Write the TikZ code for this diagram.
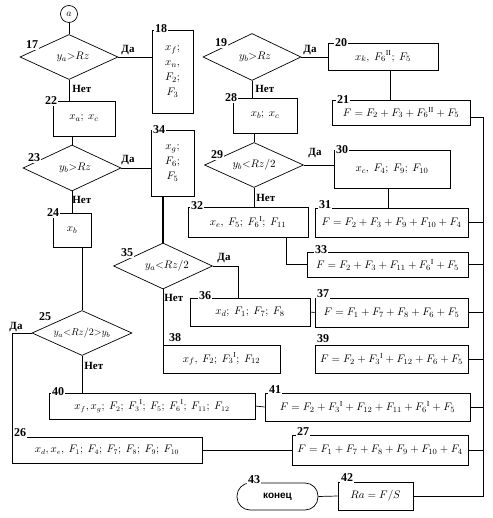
\documentclass[tikz,border=0pt]{standalone}
\usepackage{fontspec}
\setmainfont{Liberation Serif}
\newfontfamily\sansfnt{Liberation Sans}
\usetikzlibrary{shapes.geometric}
\begin{document}
\begin{tikzpicture}[x=1pt,y=-1pt,line width=0.7pt,
  box/.style={draw,inner sep=0pt,align=center,font=\fontsize{11}{15}\selectfont},
  smallbox/.style={box,font=\fontsize{10.5}{12}\selectfont},
  dia/.style={draw,diamond,inner sep=0pt},
  diatext/.style={inner sep=0pt,font=\fontsize{11}{12}\selectfont},
  num/.style={fill=white,inner sep=0.8pt,font=\bfseries\fontsize{12}{12}\selectfont},
  lab/.style={inner sep=0pt,font=\bfseries\fontsize{11}{12}\selectfont},
  term/.style={draw,rounded corners=13pt,inner sep=0pt,font=\sansfnt\bfseries\fontsize{10}{12}\selectfont},
  thick line/.style={line width=1.4pt}]
\useasboundingbox (0,0) rectangle (492,518);
% start connector
\node[draw,circle,minimum size=17pt,inner sep=0pt] (ca) at (69,14) {$a$};
% diamonds
\node[dia,minimum width=98pt,minimum height=45pt] (d17) at (69,57) {};
\node[diatext] (t17) at ([xshift=4pt]d17.center) {$y_a{>}Rz$};
\node[dia,minimum width=98pt,minimum height=46pt] (d23) at (72,168) {};
\node[diatext] (t23) at ([xshift=3pt]d23.center) {$y_b{>}Rz$};
\node[dia,minimum width=100pt,minimum height=45pt] (d25) at (82,333) {};
\node[diatext,font=\fontsize{10}{12}\selectfont] (t25) at (d25.center) {$y_a{<}Rz/2{>}y_b$};
\node[dia,minimum width=98pt,minimum height=47pt] (d19) at (252,57) {};
\node[diatext] (t19) at ([xshift=3pt]d19.center) {$y_b{>}Rz$};
\node[dia,minimum width=99pt,minimum height=45pt] (d29) at (254,165) {};
\node[diatext] (t29) at (d29.center) {$y_b{<}Rz/2$};
\node[dia,minimum width=99pt,minimum height=46pt] (d35) at (163,266) {};
\node[diatext] (t35) at ([xshift=4pt]d35.center) {$y_a{<}Rz/2$};
% boxes
\node[box,minimum width=41pt,minimum height=83pt] (b18) at (172.5,71.5) {$x_f;$\\$x_n,$\\$F_2;$\\$F_3$};
\node[box,minimum width=62pt,minimum height=35pt] (b22) at (84,118.5) {$x_a;\ x_c$};
\node[box,minimum width=38pt,minimum height=34pt] (b24) at (72,230) {$x_b$};
\node[box,minimum width=64pt,minimum height=35pt] (b28) at (265,115.5) {$x_b;\ x_c$};
\node[box,minimum width=43pt,minimum height=66pt] (b34) at (172.5,163) {$x_g;$\\$F_6;$\\$F_5$};
\node[box,minimum width=110pt,minimum height=27pt] (b20) at (383,56.5) {$x_k,\ {F_6}^{\mathrm{II}};\ F_5$};
\node[box,minimum width=138pt,minimum height=25pt] (b21) at (401,112.5) {$F=F_2+F_3+{F_6}^{\mathrm{II}}+F_5$};
\node[box,minimum width=116pt,minimum height=38pt] (b30) at (392,169) {$x_c,\ F_4;\ F_9;\ F_{10}$};
\node[box,minimum width=153pt,minimum height=29pt] (b31) at (391.5,222.5) {$F=F_2+F_3+F_9+F_{10}+F_4$};
\node[box,minimum width=120pt,minimum height=30pt] (b32) at (248,222) {$x_e,\ F_5;\ {F_6}^{\mathrm{I}};\ F_{11}$};
\node[box,minimum width=161pt,minimum height=25pt] (b33) at (387.5,264.5) {$F=F_2+F_3+F_{11}+{F_6}^{\mathrm{I}}+F_5$};
\node[box,minimum width=120pt,minimum height=28pt] (b36) at (250,312) {$x_d;\ F_1;\ F_7;\ F_8$};
\node[box,minimum width=153pt,minimum height=29pt] (b37) at (391.5,312.5) {$F=F_1+F_7+F_8+F_6+F_5$};
\node[box,minimum width=117pt,minimum height=28pt] (b38) at (221.5,359) {$x_f,\ F_2;\ {F_3}^{\mathrm{I}};\ F_{12}$};
\node[box,minimum width=153pt,minimum height=28pt] (b39) at (391.5,359) {$F=F_2+{F_3}^{\mathrm{I}}+F_{12}+F_6+F_5$};
\node[smallbox,minimum width=206pt,minimum height=26pt] (b40) at (152,406) {$x_f, x_g;\ F_2;\ {F_3}^{\mathrm{I}};\ F_5;\ {F_6}^{\mathrm{I}};\ F_{11};\ F_{12}$};
\node[box,minimum width=205pt,minimum height=28pt] (b41) at (367.5,407) {$F=F_2+{F_3}^{\mathrm{I}}+F_{12}+F_{11}+{F_6}^{\mathrm{I}}+F_5$};
\node[smallbox,minimum width=190pt,minimum height=26pt] (b26) at (107,450) {$x_d, x_e,\ F_1;\ F_4;\ F_7;\ F_8;\ F_9;\ F_{10}$};
\node[box,minimum width=176pt,minimum height=30pt] (b27) at (380,450) {$F=F_1+F_7+F_8+F_9+F_{10}+F_4$};
\node[box,minimum width=75pt,minimum height=28pt] (b42) at (375.5,496) {$Ra=F/S$};
\node[term,minimum width=81pt,minimum height=27pt] (t43) at (277.5,496.5) {конец};
% numbers
\node[num] (n17) at (32,45) {17};
\node[num] (n23) at (34,158) {23};
\node[num] (n25) at (45,317) {25};
\node[num] (n19) at (221,43) {19};
\node[num] (n29) at (217,155) {29};
\node[num] (n35) at (127,253) {35};
\node[num] (n18) at (161,29) {18};
\node[num] (n22) at (51,101) {22};
\node[num] (n24) at (53,213) {24};
\node[num] (n28) at (231,98) {28};
\node[num] (n34) at (159,130) {34};
\node[num] (n20) at (341,43) {20};
\node[num] (n21) at (343,100) {21};
\node[num] (n30) at (342,150) {30};
\node[num] (n31) at (325,205) {31};
\node[num] (n32) at (197,206) {32};
\node[num] (n33) at (321,250) {33};
\node[num] (n36) at (205,296) {36};
\node[num] (n37) at (323,294) {37};
\node[num] (n38) at (175,338) {38};
\node[num] (n39) at (323,339) {39};
\node[num] (n40) at (58,392) {40};
\node[num] (n41) at (275,390) {41};
\node[num] (n26) at (20,433) {26};
\node[num] (n27) at (303,432) {27};
\node[num] (n42) at (347,478) {42};
\node[num] (n43) at (254,480) {43};
% yes / no labels
\node[lab] (y17) at (128,50) {Да};
\node[lab] (y23) at (128,160) {Да};
\node[lab] (y25) at (16,327) {Да};
\node[lab] (y19) at (310,50) {Да};
\node[lab] (y29) at (315,153) {Да};
\node[lab] (y35) at (224,258) {Да};
\node[lab,anchor=west] (no17) at (72,89) {Нет};
\node[lab,anchor=west] (no23) at (72,200) {Нет};
\node[lab,anchor=west] (no25) at (84,366) {Нет};
\node[lab,anchor=west] (no19) at (255,89) {Нет};
\node[lab,anchor=west] (no29) at (256,198) {Нет};
\node[lab,anchor=west] (no35) at (164,298) {Нет};
% helper coordinates
\coordinate (rv) at (483,117);
\coordinate (rb) at (483,496);
\coordinate (k25) at (12,333);
\coordinate (k35) at (238,266);
\coordinate (k32) at (286,264);
% connectors
\draw (ca) -- (d17.north);
\draw (d17.east) -- (d17.east -| b18.west);
\draw (d17.south) -- (d17.south |- b22.north);
\draw (d23.north |- b22.south) -- (d23.north);
\draw (d23.east) -- (d23.east -| b34.west);
\draw (d23.south) -- (d23.south |- b24.north);
\draw (d25.north |- b24.south) -- (d25.north);
\draw (d25.west) -- (k25) -- (k25 |- b26.north);
\draw (d25.south) -- (d25.south |- b40.north);
\draw (b26.east) -- (b27.west);
\draw[thick line] (d35.north |- b34.south) -- (d35.north);
\draw (d35.east) -- (k35) -- (k35 |- b36.north);
\draw (d35.south) -- (d35.south |- b38.north);
\draw (b36.east) -- (b37.west);
\draw (b40.east) -- (b41.west);
\draw (d19.east) -- (d19.east -| b20.west);
\draw (d19.south) -- (d19.south |- b28.north);
\draw ([xshift=7pt]b20.south) -- ([xshift=7pt]b20.south |- b21.north);
\draw (d29.north |- b28.south) -- (d29.north);
\draw (d29.east) -- (d29.east -| b30.west);
\draw (d29.south) -- (d29.south |- b32.north);
\draw ([xshift=-4pt]b30.south) -- ([xshift=-4pt]b30.south |- b31.north);
\draw (k32 |- b32.south) -- (k32) -- (k32 -| b33.west);
\draw ([yshift=-4.5pt]b21.east) -- (rv) -- (rb) -- (b42.east);
\draw (b31.east) -- (b31.east -| rv);
\draw (b33.east) -- (b33.east -| rv);
\draw (b37.east) -- (b37.east -| rv);
\draw (b39.east) -- (b39.east -| rv);
\draw (b41.east) -- (b41.east -| rv);
\draw (b27.east) -- (b27.east -| rv);
\draw (t43.east) -- (b42.west);
\end{tikzpicture}
\end{document}
